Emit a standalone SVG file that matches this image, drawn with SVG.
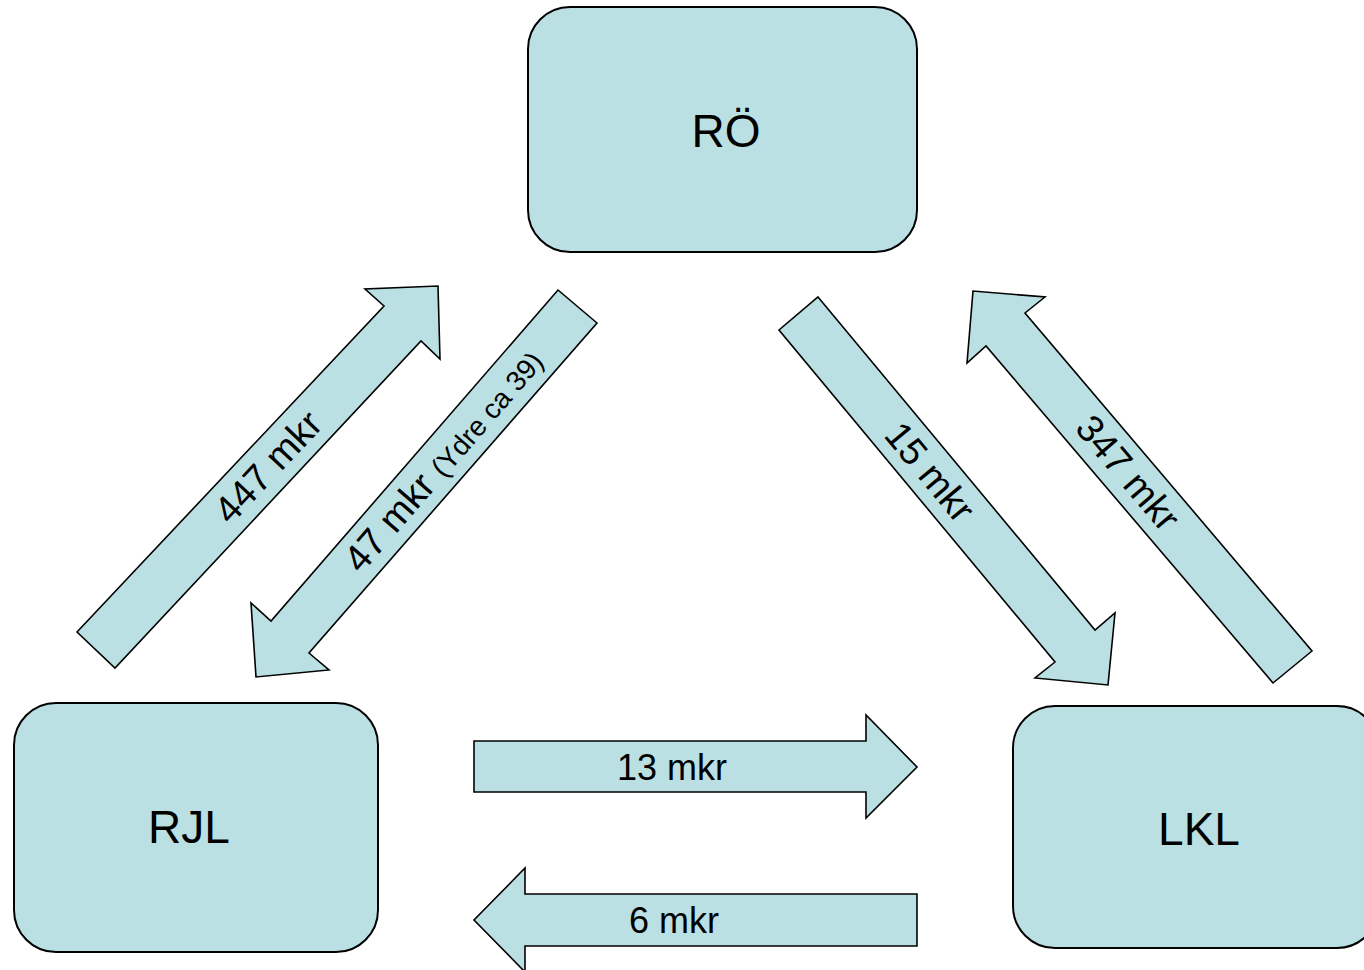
<svg xmlns="http://www.w3.org/2000/svg" width="1364" height="970" viewBox="0 0 1364 970">
<style>
.box{fill:#BBE0E3;stroke:#000;stroke-width:2}
.arr{fill:#BBE0E3;stroke:#000;stroke-width:1.6;stroke-linejoin:miter}
.nt{font-family:"Liberation Sans",Arial,sans-serif;font-size:46px;fill:#000;text-anchor:middle}
.lt{font-family:"Liberation Sans",Arial,sans-serif;font-size:36px;fill:#000;text-anchor:middle}
.dt{font-family:"Liberation Sans",Arial,sans-serif;font-size:38px;fill:#000;text-anchor:middle}
</style>
<rect width="1364" height="970" fill="#fff"/>
<g id="connectors">
<g id="a447">
<polygon class="arr" points="77,632 384,306 365,289 438,286 440,359 421,341 115,668"/>
<text class="dt" transform="translate(268,467) rotate(-46.8)" y="13">447 mkr</text>
</g>
<g id="a47">
<polygon class="arr" points="558,290 597,323 309,653 329,670 256,677 251,603 271,621"/>
<text class="dt" transform="translate(443,460) rotate(-49.1)" y="13">47 mkr <tspan font-size="28">(Ydre ca 39)</tspan></text>
</g>
<g id="a15">
<polygon class="arr" points="818,297 1095,630 1115,613 1108,685 1035,678 1055,662 779,330"/>
<text class="dt" transform="translate(930,472) rotate(50.2)" y="13">15 mkr</text>
</g>
<g id="a347">
<polygon class="arr" points="1312,651 1273,683 986,346 967,363 973,291 1045,297 1025,313"/>
<text class="dt" transform="translate(1128,473) rotate(49.7)" y="13">347 mkr</text>
</g>
<g id="a13">
<polygon class="arr" points="474,741 866,741 866,715 917,767 866,818 866,792 474,792"/>
<text class="lt" x="672" y="780">13 mkr</text>
</g>
<g id="a6">
<polygon class="arr" points="917,894 525,894 525,868 474,920 525,972 525,946 917,946"/>
<text class="lt" x="674" y="933">6 mkr</text>
</g>
</g>
<g id="RO">
<rect class="box" x="528" y="7" width="389" height="245" rx="42" ry="42"/>
<text class="nt" x="726" y="147">RÖ</text>
</g>
<g id="RJL">
<rect class="box" x="14" y="703" width="364" height="249" rx="42" ry="42"/>
<text class="nt" x="189" y="843">RJL</text>
</g>
<g id="LKL">
<rect class="box" x="1013" y="706" width="366" height="242" rx="42" ry="42"/>
<text class="nt" x="1199" y="845">LKL</text>
</g>
</svg>
